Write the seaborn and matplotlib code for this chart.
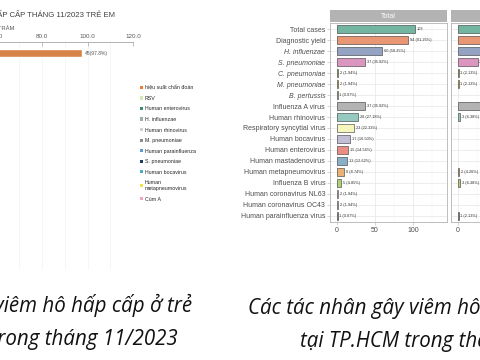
import numpy as np
import pandas as pd
import matplotlib
matplotlib.use("Agg")
import matplotlib.pyplot as plt
import seaborn as sns
from matplotlib.patches import Patch

# --- biểu đồ trái (Excel): chỉ còn thấy cột hiệu suất chẩn đoán
left_cats = ["hiệu suất chẩn đoán"]
left_pct = [97.8]
left_n = [45]
left_ticks = [0, 20, 40, 60, 80, 100, 120]

legend_names = ["hiệu suất chẩn đoán", "RSV", "Human enterovirus", "H. influenzae",
                "Human rhinovirus", "M. pneumoniae", "Human parainfluenza",
                "S. pneumoniae", "Human bocavirus", "Human\nmetapneumovirus", "Cúm A"]
legend_colors = ["#ED7D31", "#D5E8B0", "#3E8E6E", "#9DB0A3", "#D0D0D0", "#8C8C8C",
                 "#5B9BD5", "#1F3B63", "#4BACC6", "#F2E24A", "#F4A6B6"]

# --- biểu đồ phải (ggplot, facet)
categories = ["Total cases", "Diagnostic yield", "H. influenzae", "S. pneumoniae",
              "C. pneumoniae", "M. pneumoniae", "B. pertussis", "Influenza A virus",
              "Human rhinovirus", "Respiratory syncytial virus", "Human bocavirus",
              "Human enterovirus", "Human mastadenovirus", "Human metapneumovirus",
              "Influenza B virus", "Human coronavirus NL63", "Human coronavirus OC43",
              "Human parainfluenza virus"]
bacteria = ["H. influenzae", "S. pneumoniae", "C. pneumoniae", "M. pneumoniae", "B. pertussis"]
bar_colors = ["#66c2a5", "#fc8d62", "#8da0cb", "#e78ac3", "#a6d854", "#ffd92f", "#e5c494",
              "#b3b3b3", "#8dd3c7", "#ffffb3", "#bebada", "#fb8072", "#80b1d3", "#fdb462",
              "#b3de69", "#fccde5", "#d9d9d9", "#bc80bd"]

total_n = [103, 94, 60, 37, 2, 2, 1, 37, 28, 23, 17, 15, 13, 9, 5, 2, 2, 1]
total_pct = [None, 91.26, 58.25, 35.92, 1.94, 1.94, 0.97, 35.92, 27.18, 22.33, 16.50,
             14.56, 12.62, 8.74, 4.85, 1.94, 1.94, 0.97]

panel2_name = "Influenza A"
panel2_n = [47, 44, 32, 26, 1, 1, 0, 35, 3, 0, 0, 0, 0, 2, 3, 0, 0, 1]
panel2_pct = [None, 93.62, 68.09, 55.32, 2.13, 2.13, 0, 74.47, 6.38, 0, 0, 0, 0,
              4.26, 6.38, 0, 0, 2.13]

caption_left = ["Tác nhân gây viêm hô hấp cấp ở trẻ", "em trong tháng 11/2023"]
caption_right = ["Các tác nhân gây viêm hô hấp cấp ở trẻ em", "tại TP.HCM trong tháng 11/2023"]

sns.set_theme(style="white")
plt.rcParams["font.family"] = ["Liberation Sans", "DejaVu Sans"]

W, H = 480, 360
fig = plt.figure(figsize=(W / 100, H / 100), dpi=100)
fig.patch.set_facecolor("white")


def px_axes(left, top, width, height):
    # vị trí theo pixel, gốc ở góc trên trái
    return fig.add_axes([left / W, 1 - (top + height) / H, width / W, height / H])


def fmt_label(n, pct):
    return f"{n}" if pct is None else f"{n} ({pct:.2f}%)"


# ================= biểu đồ trái =================
axL = px_axes(-140, 42, 273, 228)
sns.barplot(x=left_pct, y=left_cats, color=legend_colors[0], orient="h",
            width=0.8, ax=axL)
axL.set_xlim(0, 120)
axL.set_ylim(21.7, -1.1)
axL.set_facecolor("none")
axL.xaxis.tick_top()
axL.set_xticks(left_ticks)
axL.set_xticklabels([f"{t:.1f}" for t in left_ticks])
axL.set_xticks(np.arange(10, 120, 10), minor=True)
axL.tick_params(axis="x", which="major", direction="in", length=3, width=0.5,
                color="#a6a6a6", labelsize=4.5, labelcolor="#595959", pad=2)
axL.tick_params(axis="x", which="minor", length=0)
axL.tick_params(axis="y", left=False, labelleft=False)
axL.grid(axis="x", which="both", color="#f3f3f3", lw=0.5)
for side, sp in axL.spines.items():
    sp.set_visible(side == "top")
axL.spines["top"].set_color("#a6a6a6")
axL.spines["top"].set_linewidth(0.6)
axL.set_xlabel("")
axL.set_ylabel("")
for i, (v, n) in enumerate(zip(left_pct, left_n)):
    axL.text(v + 1.2, i, f"{n}({v}%)", fontsize=3.6, color="#595959", va="center")

fig.text(115 / W, 1 - 15 / H, "TÁC NHÂN GÂY VIÊM HÔ HẤP CẤP THÁNG 11/2023 TRẺ EM",
         ha="right", va="center", fontsize=5.6, color="#404040")
fig.text(14 / W, 1 - 29 / H, "PHẦN TRĂM", ha="right", va="center",
         fontsize=4.2, color="#595959")

handles = [Patch(facecolor=c, edgecolor="none") for c in legend_colors]
fig.legend(handles, legend_names, loc="upper left", bbox_to_anchor=(140 / W, 1 - 85 / H),
           frameon=False, fontsize=3.8, handlelength=0.6, handleheight=0.6,
           handletextpad=0.3, labelspacing=1.05, borderaxespad=0, borderpad=0)

# ================= biểu đồ phải =================
pal = dict(zip(categories, bar_colors))


def draw_panel(ax, counts, pcts, show_y):
    d = pd.DataFrame({"category": categories, "n": counts})
    d = d[d["n"] > 0]
    sns.barplot(data=d, x="n", y="category", hue="category", order=categories,
                hue_order=categories, palette=pal, legend=False, width=0.8,
                edgecolor="#333333", linewidth=0.4, ax=ax, zorder=3)
    ax.set_xlim(-9, 145)
    ax.set_ylim(17.55, -0.55)
    ax.set_facecolor("white")
    ax.set_xticks([0, 50, 100])
    ax.set_xticks([25, 75, 125], minor=True)
    ax.grid(axis="x", which="major", color="#e6e6e6", lw=0.5, zorder=0)
    ax.grid(axis="x", which="minor", color="#f3f3f3", lw=0.35, zorder=0)
    ax.grid(axis="y", which="major", color="#e6e6e6", lw=0.5, zorder=0)
    for sp in ax.spines.values():
        sp.set_color("#b3b3b3")
        sp.set_linewidth(0.6)
    ax.tick_params(axis="x", which="major", bottom=True, length=2, width=0.4,
                   color="#b3b3b3", labelsize=5, labelcolor="#4d4d4d", pad=1.5)
    ax.tick_params(axis="x", which="minor", length=0)
    ax.tick_params(axis="y", left=show_y, labelleft=show_y, length=2, width=0.4,
                   color="#b3b3b3", labelsize=5, labelcolor="#4d4d4d", pad=1.5)
    ax.set_xlabel("")
    ax.set_ylabel("")
    if show_y:
        for lab in ax.get_yticklabels():
            if lab.get_text() in bacteria:
                lab.set_fontstyle("italic")
    for i, (n, p) in enumerate(zip(counts, pcts)):
        if n > 0:
            ax.text(n + 2.5, i, fmt_label(n, p), fontsize=2.8, color="#333333",
                    va="center", zorder=4)


def draw_strip(left, title):
    s = px_axes(left, 10, 117, 12)
    s.set_facecolor("#b3b3b3")
    s.set_xticks([])
    s.set_yticks([])
    for sp in s.spines.values():
        sp.set_visible(False)
    s.text(0.5, 0.5, title, transform=s.transAxes, ha="center", va="center",
           fontsize=5, color="white")


axT = px_axes(330, 23, 117, 199)
draw_panel(axT, total_n, total_pct, True)
draw_strip(330, "Total")

ax2 = px_axes(451, 23, 117, 199)
draw_panel(ax2, panel2_n, panel2_pct, False)
draw_strip(451, panel2_name)

# ================= chú thích ảnh =================
cap_kw = dict(fontsize=14.8, style="italic", color="#111111", va="baseline",
              family=["Open Sans", "DejaVu Sans"])
fig.text(192 / W, 1 - 312 / H, caption_left[0], ha="right", **cap_kw)
fig.text(178 / W, 1 - 345 / H, caption_left[1], ha="right", **cap_kw)
fig.text(248 / W, 1 - 314 / H, caption_right[0], ha="left", **cap_kw)
fig.text(300 / W, 1 - 347 / H, caption_right[1], ha="left", **cap_kw)

fig.savefig("out.png", dpi=100, facecolor="white")
